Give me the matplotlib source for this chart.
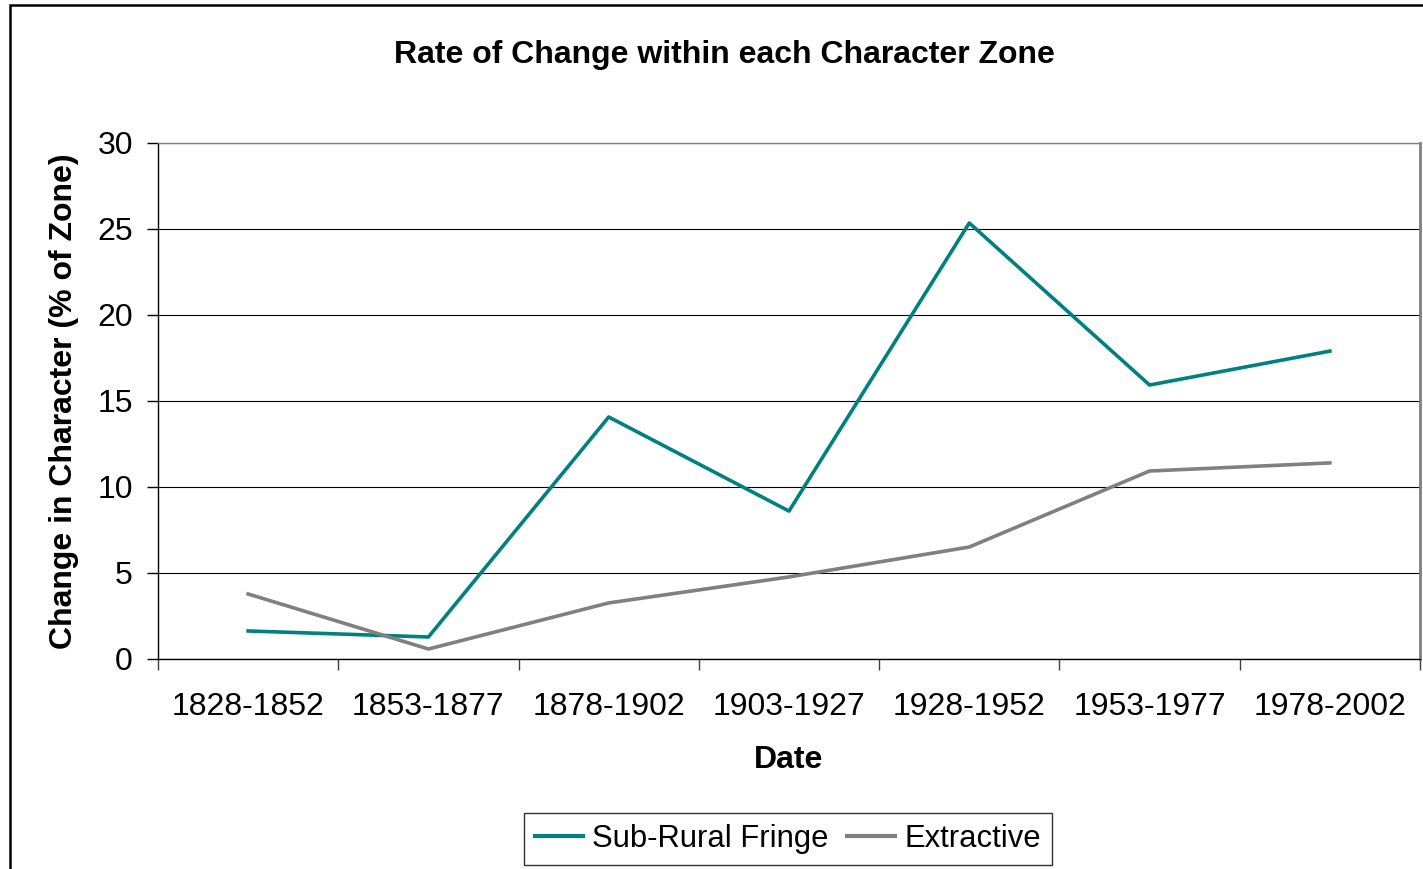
import matplotlib
matplotlib.use("Agg")
import matplotlib.pyplot as plt
from matplotlib.patches import Rectangle

periods = ["1828-1852", "1853-1877", "1878-1902", "1903-1927",
           "1928-1952", "1953-1977", "1978-2002"]
sub_rural = [1.63, 1.28, 14.07, 8.6, 25.35, 15.93, 17.9]
extractive = [3.78, 0.58, 3.26, 4.77, 6.51, 10.93, 11.4]

plt.rcParams['font.family'] = ['Liberation Sans', 'DejaVu Sans']

fig = plt.figure(figsize=(14.23, 8.69), dpi=100)
ax = fig.add_axes([158 / 1423, 1 - 659 / 869, (1420 - 158) / 1423, (659 - 143) / 869])

x = list(range(len(periods)))
ax.plot(x, sub_rural, color='#008080', linewidth=2.6, label='Sub-Rural Fringe')
ax.plot(x, extractive, color='#808080', linewidth=2.6, label='Extractive')

ax.set_xlim(-0.5, len(periods) - 0.5)
ax.set_ylim(0, 30)
ax.set_yticks([0, 5, 10, 15, 20, 25, 30])
ax.yaxis.grid(True, color='black', linewidth=0.8)
ax.set_axisbelow(True)

ax.set_xticks(x)
ax.set_xticklabels(periods, fontsize=23)
ax.set_xticks([i - 0.5 for i in range(len(periods) + 1)], minor=True)
ax.tick_params(axis='x', which='major', length=0, pad=24)
ax.tick_params(axis='x', which='minor', length=8, width=1, color='#404040', direction='out')
ax.tick_params(axis='y', length=8, width=1, labelsize=23, pad=10, direction='out')

ax.spines['left'].set_color('black')
ax.spines['bottom'].set_color('black')
ax.spines['top'].set_color('#808080')
ax.spines['right'].set_color('#808080')
ax.spines['right'].set_linewidth(2)
for s in ['left', 'bottom', 'top']:
    ax.spines[s].set_linewidth(1)

ax.set_xlabel('Date', fontsize=23, fontweight='bold', labelpad=16)
ax.set_ylabel('Change in Character (% of Zone)', fontsize=23, fontweight='bold', labelpad=13)
fig.text(724 / 1423, 1 - 55 / 869, 'Rate of Change within each Character Zone',
         ha='center', va='center', fontsize=23, fontweight='bold')

leg = fig.legend(loc='center', bbox_to_anchor=(788 / 1423, 1 - 839 / 869), ncol=2,
                 fontsize=22.3, frameon=True, fancybox=False, edgecolor='black',
                 handlelength=1.55, handletextpad=0.3, columnspacing=0.58,
                 borderpad=0.35)
leg.get_frame().set_linewidth(1)
for h in leg.get_lines():
    h.set_linewidth(3)

fig.patches.append(Rectangle((10 / 1423, -0.05), 1.2, 1.05 - 5 / 869,
                             transform=fig.transFigure, fill=False,
                             edgecolor='black', linewidth=1.8))

fig.savefig("out.png", dpi=100)
